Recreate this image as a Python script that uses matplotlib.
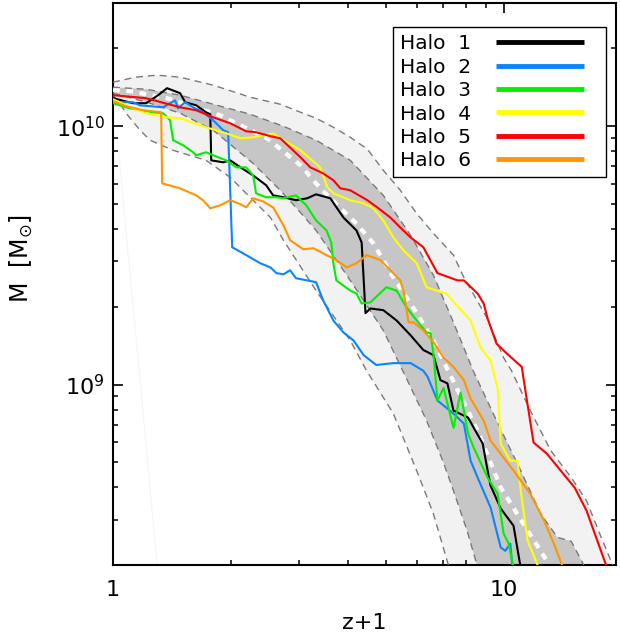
import math
import matplotlib
matplotlib.use('Agg')
import matplotlib.pyplot as plt
from matplotlib.lines import Line2D
from matplotlib.legend_handler import HandlerLine2D
from matplotlib.ticker import FixedLocator, LogLocator, FuncFormatter, NullFormatter

plt.rcParams['font.family'] = ['DejaVu Sans']

MUNIT = 1e9  # masses below are in units of 1e9 Msun

# ---- envelope of the halo sample (z+1, mass) ----
light_top_x = [1.0, 1.139, 1.297, 1.485, 1.805, 2.245, 2.68, 3.02, 3.31, 3.665, 4.05, 4.48, 4.92, 5.44,
               5.99, 6.61, 7.44, 7.91, 9.05, 10.0, 10.48, 11.7, 13.2, 14.9, 16.3, 17.7, 19.1]
light_top_m = [14.81, 15.48, 15.77, 15.48, 14.42, 12.95, 12.17, 11.33, 10.74, 9.91, 9.06, 8.15, 6.75, 5.65,
               4.59, 3.85, 3.17, 2.60, 1.82, 1.27, 1.13, 0.793, 0.555, 0.436, 0.355, 0.260, 0.197]
light_bot_x = [1.0, 1.042, 1.080, 1.173, 1.244, 1.425, 1.73, 1.995, 2.284, 2.53, 2.73, 3.31, 4.05, 4.46,
               5.22, 5.99, 6.61, 7.22]
light_bot_m = [13.19, 12.28, 11.23, 9.65, 8.83, 8.07, 7.38, 6.34, 5.17, 4.43, 3.62, 2.31, 1.48, 1.13,
               0.772, 0.464, 0.316, 0.200]
dark_top_x = [1.0, 1.215, 1.485, 1.805, 2.245, 2.73, 3.31, 4.05, 4.92, 5.78, 6.61, 7.44, 8.38, 9.59,
              11.06, 12.44, 13.73, 14.9, 16.04]
dark_top_m = [14.16, 13.91, 13.19, 12.17, 11.13, 10.0, 8.83, 7.38, 5.40, 3.78, 2.65, 1.74, 1.12, 0.725,
              0.464, 0.316, 0.256, 0.247, 0.200]
dark_bot_x = [1.0, 1.244, 1.485, 1.805, 2.284, 2.68, 2.94, 3.31, 4.05, 4.92, 5.64, 6.35, 7.02, 7.44,
              8.06, 8.53]
dark_bot_m = [13.43, 12.28, 11.23, 9.65, 7.18, 5.65, 4.85, 3.95, 2.53, 1.62, 1.055, 0.725, 0.497, 0.388,
              0.272, 0.202]
median_x = [1.0, 1.105, 1.375, 1.88, 2.48, 3.02, 3.31, 3.54, 4.20, 4.64, 5.22, 5.99, 6.61, 7.31, 8.58,
            9.83, 11.52, 13.0]
median_m = [13.8, 13.67, 12.84, 11.03, 8.98, 7.06, 6.01, 5.40, 4.20, 3.52, 2.60, 1.89, 1.48, 1.084, 0.663,
            0.399, 0.272, 0.204]
faint_x = [1.024, 1.061, 1.173, 1.297]
faint_m = [9.65, 5.17, 1.04, 0.200]

# ---- individual halos ----
halo_labels = ['Halo  1', 'Halo  2', 'Halo  3', 'Halo  4', 'Halo  5', 'Halo  6']
halo_colors = ['#000000', '#0a84ff', '#00f000', '#ffff00', '#ff0000', '#ff9500']

h1_x = [1.0, 1.125, 1.215, 1.305, 1.375, 1.485, 1.530, 1.633, 1.73, 1.774, 1.784, 1.914, 1.995, 2.12,
        2.284, 2.466, 2.57, 2.73, 2.94, 3.14, 3.31, 3.60, 3.89, 4.20, 4.33, 4.43, 4.56, 4.92, 5.32, 5.78,
        6.23, 6.61, 6.89, 7.18, 7.44, 8.11, 8.84, 9.10, 9.26, 9.83, 10.6, 11.06]
h1_m = [12.84, 12.28, 12.28, 13.19, 14.04, 13.43, 12.39, 12.05, 11.33, 11.13, 7.38, 7.25, 7.38, 6.93,
        6.45, 5.91, 5.40, 5.31, 5.17, 5.26, 5.45, 5.26, 4.43, 3.95, 3.55, 1.89, 1.97, 1.94, 1.77, 1.55,
        1.36, 1.30, 1.04, 1.01, 0.793, 0.744, 0.590, 0.464, 0.406, 0.331, 0.284, 0.195]

h2_x = [1.0, 1.125, 1.173, 1.343, 1.40, 1.442, 1.467, 1.530, 1.603, 1.70, 1.805, 1.914, 1.971, 2.019,
        2.193, 2.38, 2.53, 2.62, 2.73, 2.84, 2.94, 3.31, 3.45, 3.665, 3.89, 4.13, 4.38, 4.72, 5.22, 5.78,
        6.23, 6.39, 6.77, 7.44, 7.91, 8.23, 8.58, 9.26, 9.83, 10.1, 10.4, 10.54]
h2_m = [12.39, 12.39, 12.05, 11.84, 12.28, 12.6, 11.74, 12.39, 11.84, 11.33, 10.55, 9.65, 9.48, 3.40,
        3.17, 2.95, 2.84, 2.70, 2.67, 2.77, 2.58, 2.49, 2.12, 1.77, 1.59, 1.48, 1.30, 1.19, 1.21, 1.21,
        1.13, 1.07, 0.867, 0.772, 0.706, 0.507, 0.436, 0.334, 0.234, 0.227, 0.242, 0.195]

h3_x = [1.0, 1.080, 1.173, 1.266, 1.343, 1.40, 1.425, 1.512, 1.603, 1.633, 1.73, 1.805, 1.948, 2.07,
        2.193, 2.284, 2.324, 2.466, 2.62, 2.73, 2.94, 3.125, 3.31, 3.52, 3.62, 3.665, 3.73, 4.05, 4.20,
        4.33, 4.56, 5.01, 5.32, 5.64, 5.99, 6.35, 6.50, 6.61, 6.77, 7.02, 7.44, 7.76, 8.11, 8.38, 9.10,
        9.65, 10.0, 10.30, 10.6]
h3_m = [12.28, 11.84, 11.53, 11.33, 11.23, 10.55, 8.83, 8.44, 7.93, 7.72, 7.93, 7.72, 7.38, 6.93, 6.93,
        6.45, 5.50, 5.31, 5.31, 5.26, 5.40, 4.94, 4.32, 3.95, 3.55, 2.95, 2.53, 2.31, 2.25, 2.06, 2.08,
        2.38, 2.31, 1.99, 1.77, 1.59, 1.58, 1.32, 0.867, 0.97, 0.680, 0.932, 0.646, 0.570, 0.436, 0.378,
        0.265, 0.242, 0.195]

h4_x = [1.0, 1.125, 1.215, 1.375, 1.485, 1.73, 1.948, 2.12, 2.284, 2.42, 2.57, 2.68, 3.02, 3.39, 3.54,
        3.665, 4.05, 4.38, 4.64, 4.92, 5.22, 5.54, 5.99, 6.35, 6.73, 7.14, 7.44, 8.23, 8.73, 9.26, 9.53,
        9.65, 9.83, 10.4, 10.86, 11.06, 11.52, 12.3]
h4_m = [12.72, 11.74, 11.23, 10.83, 10.74, 9.91, 9.39, 8.98, 9.06, 9.23, 9.39, 8.98, 8.07, 6.93, 5.80,
        5.50, 5.17, 5.03, 4.81, 4.32, 3.71, 3.31, 2.95, 2.38, 2.31, 2.25, 2.09, 1.77, 1.39, 1.24, 1.04,
        0.97, 0.590, 0.507, 0.507, 0.388, 0.249, 0.195]

h5_x = [1.0, 1.215, 1.485, 1.633, 1.805, 1.995, 2.193, 2.324, 2.53, 2.68, 3.02, 3.20, 3.45, 3.665, 3.82,
        4.05, 4.48, 4.75, 5.13, 5.44, 5.78, 6.23, 6.77, 7.62, 7.91, 8.58, 8.89, 9.10, 9.59, 10.18, 11.13,
        11.26, 11.93, 12.9, 14.0, 15.2, 16.3, 18.4]
h5_m = [13.19, 12.84, 11.84, 11.53, 10.83, 10.27, 9.56, 9.48, 9.15, 8.98, 7.58, 6.93, 6.57, 6.18, 5.75,
        5.65, 5.17, 4.85, 4.43, 4.05, 3.71, 3.40, 2.70, 2.53, 2.53, 2.25, 2.06, 1.80, 1.44, 1.32, 1.17,
        1.04, 0.596, 0.540, 0.464, 0.399, 0.325, 0.195]

h6_x = [1.0, 1.080, 1.194, 1.328, 1.336, 1.485, 1.633, 1.70, 1.774, 1.88, 1.995, 2.12, 2.193, 2.284,
        2.42, 2.57, 2.73, 2.84, 3.07, 3.26, 3.52, 3.73, 3.97, 4.20, 4.46, 4.84, 5.13, 5.44, 5.54, 5.71,
        5.88, 6.23, 6.61, 7.02, 7.44, 7.91, 8.23, 8.89, 9.26, 10.0, 10.6, 11.7, 12.7, 13.45, 14.2]
h6_m = [12.50, 11.95, 11.53, 11.33, 6.01, 5.75, 5.40, 5.17, 4.81, 4.94, 5.17, 4.99, 4.85, 5.26, 5.12,
        4.85, 4.14, 3.62, 3.34, 3.37, 3.17, 3.03, 2.84, 2.95, 3.17, 3.03, 2.77, 2.53, 2.31, 1.74, 1.74,
        1.62, 1.46, 1.27, 1.17, 1.04, 0.882, 0.725, 0.606, 0.521, 0.464, 0.378, 0.297, 0.242, 0.195]

halo_x = [h1_x, h2_x, h3_x, h4_x, h5_x, h6_x]
halo_m = [h1_m, h2_m, h3_m, h4_m, h5_m, h6_m]


def sc(m):
    return [v * MUNIT for v in m]


class ShortLineHandler(HandlerLine2D):
    """Legend line that fills only the left part of its handle box."""
    def __init__(self, frac=0.85, **kw):
        super().__init__(**kw)
        self.frac = frac

    def create_artists(self, legend, orig_handle, xdescent, ydescent, width, height, fontsize, trans):
        return super().create_artists(legend, orig_handle, xdescent, ydescent,
                                      width * self.frac, height, fontsize, trans)


fig = plt.figure(figsize=(6.2, 6.42), dpi=100)
ax = fig.add_axes([0.1823, 0.1199, 0.8113, 0.8754])
ax.set_xscale('log')
ax.set_yscale('log')

# bands
ax.fill(light_top_x + light_bot_x[::-1], sc(light_top_m + light_bot_m[::-1]),
        color='#f2f2f2', lw=0, zorder=1)
ax.fill(dark_top_x + dark_bot_x[::-1], sc(dark_top_m + dark_bot_m[::-1]),
        color='#c6c6c6', lw=0, zorder=2)
ax.plot(faint_x, sc(faint_m), color='#f5f5f5', lw=0.8, zorder=1.5)
for bx, bm in [(light_top_x, light_top_m), (light_bot_x, light_bot_m),
               (dark_top_x, dark_top_m), (dark_bot_x, dark_bot_m)]:
    ax.plot(bx, sc(bm), color='#7a7a7a', lw=1.0, ls=(0, (5, 3.5)), zorder=3)
ax.plot(median_x, sc(median_m), color='white', lw=3.0, ls=(0, (1.6, 1.6)), zorder=4)

handles = []
for x, m, c, lab in zip(halo_x, halo_m, halo_colors, halo_labels):
    ax.plot(x, sc(m), color=c, lw=1.5, zorder=5)
    handles.append(Line2D([], [], color=c, lw=3.5, solid_capstyle='butt'))

ax.set_xlim(1, 19.4)
ax.set_ylim(2e8, 3e10)

ax.xaxis.set_major_locator(FixedLocator([1, 10]))
ax.xaxis.set_minor_locator(LogLocator(base=10, subs=range(2, 10)))
ax.xaxis.set_major_formatter(FuncFormatter(lambda v, p: '%g' % v))
ax.xaxis.set_minor_formatter(NullFormatter())
ax.yaxis.set_major_locator(FixedLocator([1e9, 1e10]))
ax.yaxis.set_minor_locator(LogLocator(base=10, subs=range(2, 10)))
ax.yaxis.set_major_formatter(FuncFormatter(lambda v, p: r'$10^{%d}$' % round(math.log10(v))))
ax.yaxis.set_minor_formatter(NullFormatter())

ax.tick_params(which='both', direction='in', top=True, right=True, labelsize=16)
ax.tick_params(which='major', length=7.5, width=1.2)
ax.tick_params(which='minor', length=3.8, width=1.1)
ax.tick_params(axis='x', which='major', pad=11)
ax.tick_params(axis='y', which='major', pad=6)
for s in ax.spines.values():
    s.set_linewidth(1.5)

ax.set_xlabel('z+1', fontsize=16)
ax.xaxis.set_label_coords(0.5, -0.085)
ax.set_ylabel(r'M  [M$_{\odot}$]', fontsize=17)
ax.yaxis.set_label_coords(-0.155, 0.545)

leg = ax.legend(handles, halo_labels, loc='upper right', bbox_to_anchor=(0.980, 0.957),
                borderaxespad=0, markerfirst=False, handlelength=5.1, fontsize=14.5,
                labelspacing=0.22, borderpad=0.35, handletextpad=1.25, fancybox=False,
                framealpha=1, edgecolor='black',
                handler_map={Line2D: ShortLineHandler(frac=0.85)})
leg.get_frame().set_linewidth(1.0)
leg.set_zorder(10)

fig.savefig('out.png', dpi=100)
